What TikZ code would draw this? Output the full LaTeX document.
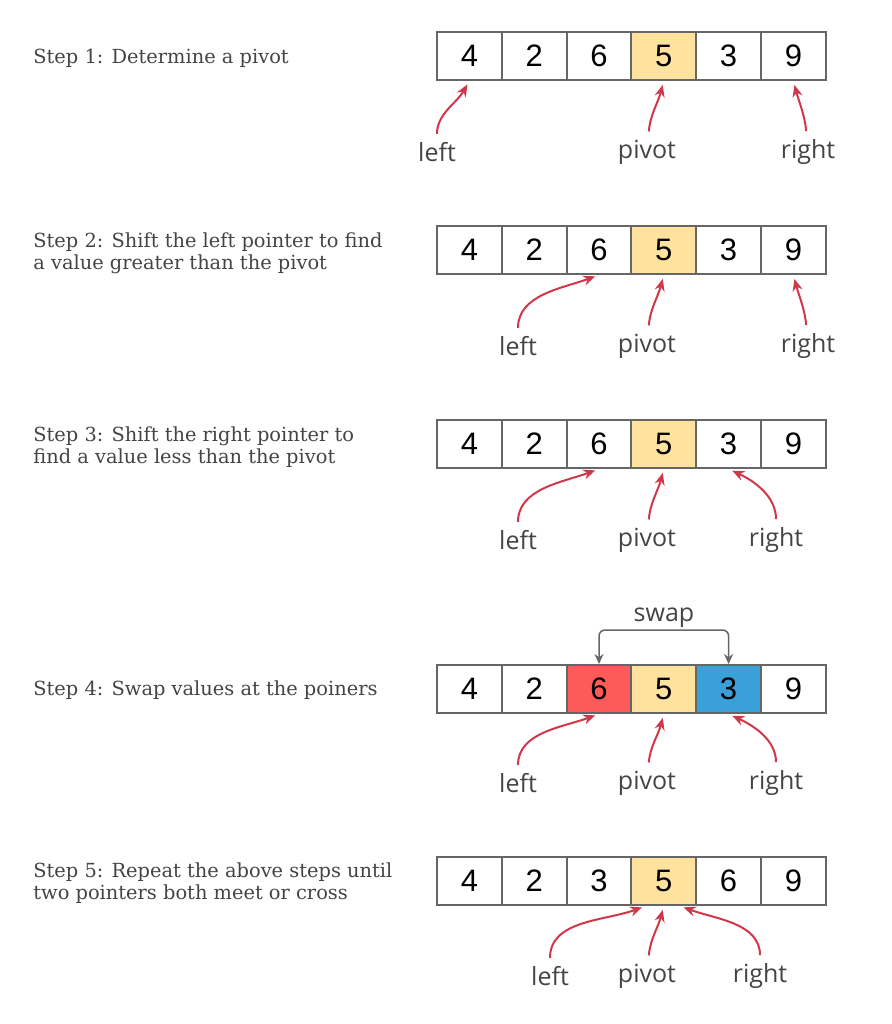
\documentclass[tikz,border=0pt]{standalone}
\usepackage{fontspec}
\setmainfont{DejaVu Serif}
\newfontfamily\digitfont{Liberation Sans}
\newfontfamily\handfont{Open Sans}
\usetikzlibrary{arrows.meta,positioning,calc}
\definecolor{PivotYellow}{HTML}{FFE29D}
\definecolor{SwapRed}{HTML}{FF5A5A}
\definecolor{SwapBlue}{HTML}{3AA0D8}
\definecolor{PtrRed}{HTML}{D0384A}
\definecolor{EdgeGray}{HTML}{666666}
\definecolor{TextGray}{HTML}{444444}

\begin{document}
\begin{tikzpicture}[x=0.5pt,y=0.5pt,
  cell/.style={draw=EdgeGray,line width=1pt,minimum width=32.4pt,minimum height=24pt,inner sep=0pt,
    font=\digitfont\fontsize{15.5}{15.5}\selectfont},
  steptext/.style={anchor=west,align=left,text=TextGray,inner sep=0pt,font=\fontsize{9.7}{11}\selectfont},
  ptr/.style={text=TextGray,inner sep=1pt,font=\handfont\fontsize{12.5}{12.5}\selectfont},
  parrow/.style={draw=PtrRed,line width=1pt,-{Stealth[length=6pt,width=5pt]},shorten >=2pt,shorten <=3pt},
  swp/.style={draw=EdgeGray,line width=0.75pt,rounded corners=3pt,
    {Stealth[length=5pt,width=4.5pt]}-{Stealth[length=5pt,width=4.5pt]}}]
  \useasboundingbox (0,0) rectangle (891,-1024);

  % the five arrays
  \foreach \r/\y/\vals in {1/56/{4,2,6,5,3,9},2/250/{4,2,6,5,3,9},3/444/{4,2,6,5,3,9},
                           4/689/{4,2,6,5,3,9},5/881/{4,2,3,5,6,9}}{
    \foreach \v [count=\c] in \vals{
      \def\cc{white}
      \ifnum\c=4 \def\cc{PivotYellow}\fi
      \ifnum\r=4 \ifnum\c=3 \def\cc{SwapRed}\fi \ifnum\c=5 \def\cc{SwapBlue}\fi \fi
      \node[cell,fill=\cc] (c\r-\c) at ({437+64.8*(\c-0.5)},-\y) {\v};
    }
  }

  \node[steptext] (s1) at (33,-58) {Step 1: Determine a pivot};
  \node[steptext] (s2) at (33,-253) {Step 2: Shift the left pointer to find\\a value greater than the pivot};
  \node[steptext] (s3) at (33,-447) {Step 3: Shift the right pointer to\\find a value less than the pivot};
  \node[steptext] (s4) at (33,-690) {Step 4: Swap values at the poiners};
  \node[steptext] (s5) at (33,-883) {Step 5: Repeat the above steps until\\two pointers both meet or cross};

  % step 1
  \node[ptr] (l1) at (437,-152) {left};
  \node[ptr] (p1) at (647,-152) {pivot};
  \node[ptr] (g1) at (808,-152) {right};
  \draw[parrow] (l1) to[out=90,in=-120] (c1-1.south);
  \draw[parrow] (p1) to[out=85,in=-105] (c1-4.south);
  \draw[parrow] (g1) to[out=95,in=-75] (c1-6.south);

  % step 2
  \node[ptr] (l2) at (518,-346) {left};
  \node[ptr] (p2) at (647,-346) {pivot};
  \node[ptr] (g2) at (808,-346) {right};
  \draw[parrow] (l2) to[out=90,in=-160] (c2-3.south);
  \draw[parrow] (p2) to[out=85,in=-105] (c2-4.south);
  \draw[parrow] (g2) to[out=95,in=-75] (c2-6.south);

  % step 3
  \node[ptr] (l3) at (518,-540) {left};
  \node[ptr] (p3) at (647,-540) {pivot};
  \node[ptr] (g3) at (776,-540) {right};
  \draw[parrow] (l3) to[out=90,in=-160] (c3-3.south);
  \draw[parrow] (p3) to[out=85,in=-105] (c3-4.south);
  \draw[parrow] (g3) to[out=90,in=-25] (c3-5.south);

  % step 4
  \node[ptr] (l4) at (518,-783) {left};
  \node[ptr] (p4) at (647,-783) {pivot};
  \node[ptr] (g4) at (776,-783) {right};
  \draw[parrow] (l4) to[out=90,in=-160] (c4-3.south);
  \draw[parrow] (p4) to[out=85,in=-105] (c4-4.south);
  \draw[parrow] (g4) to[out=90,in=-25] (c4-5.south);
  \coordinate (swtop) at (664,-630);
  \draw[swp] (c4-3.north) |- (swtop) -| (c4-5.north);
  \node[ptr,above=0pt of swtop] (sw) {swap};

  % step 5
  \node[ptr] (l5) at (550,-976) {left};
  \node[ptr] (p5) at (647,-976) {pivot};
  \node[ptr] (g5) at (760,-976) {right};
  \draw[parrow] (l5) to[out=90,in=-160] ([xshift=-9pt]c5-4.south);
  \draw[parrow] (p5) to[out=85,in=-105] (c5-4.south);
  \draw[parrow] (g5) to[out=90,in=-20] ([xshift=8pt]c5-4.south);
\end{tikzpicture}
\end{document}
